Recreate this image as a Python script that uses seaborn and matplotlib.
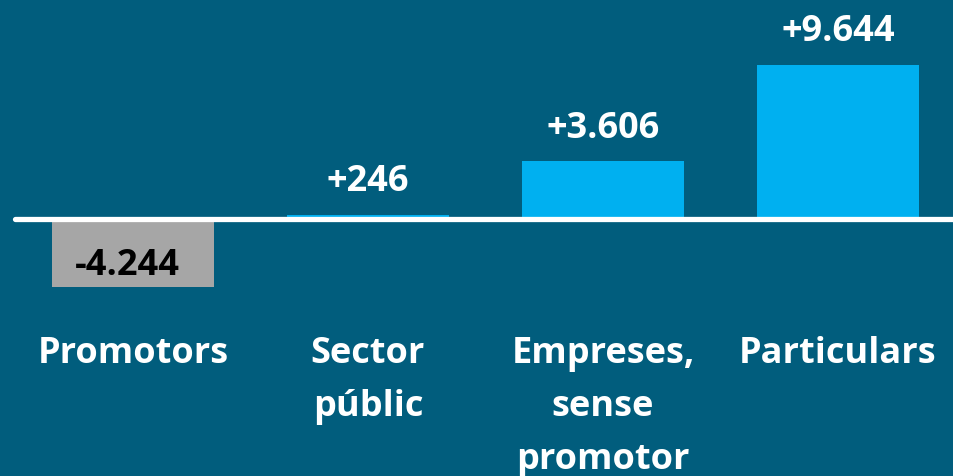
import matplotlib.pyplot as plt
import matplotlib.transforms as mtransforms
import seaborn as sns

categories = ["Promotors", "Sector\npúblic", "Empreses,\nsense\npromotor", "Particulars"]
values = [-4244, 246, 3606, 9644]
value_labels = ["-4.244", "+246", "+3.606", "+9.644"]
bar_colors = ["#A6A6A6", "#00B0F0", "#00B0F0", "#00B0F0"]

BG = "#015D7D"

sns.set_theme(style="white")
plt.rcParams["font.family"] = ["Open Sans", "DejaVu Sans"]

fig = plt.figure(figsize=(9.54, 4.76), dpi=100, facecolor=BG)
ax = fig.add_axes([0, 0, 1, 1])
ax.set_facecolor(BG)

sns.barplot(
    x=list(range(len(values))),
    y=values,
    hue=list(range(len(values))),
    palette=bar_colors,
    width=0.69,
    legend=False,
    saturation=1,
    linewidth=0,
    ax=ax,
)

ax.set_xlim(-0.566, 3.494)
ax.set_ylim(-16060, 13690)
ax.axhline(0, xmin=15 / 954, xmax=1, color="white", linewidth=3.8, zorder=5)
ax.set_axis_off()

# value labels
for i, (val, lab) in enumerate(zip(values, value_labels)):
    if val >= 0:
        ax.annotate(lab, (i, val), xytext=(0, 17), textcoords="offset points",
                    ha="center", va="baseline", color="white",
                    fontsize=26, fontweight="bold")
    else:
        ax.annotate(lab, (i, val), xytext=(-4.3, 8.4), textcoords="offset points",
                    ha="center", va="baseline", color="black",
                    fontsize=26, fontweight="bold", zorder=6)

# category labels
trans = mtransforms.blended_transform_factory(ax.transData, ax.transAxes)
for i, cat in enumerate(categories):
    ax.text(i, 1 - 336 / 476, cat, transform=trans, ha="center", va="top",
            multialignment="center", linespacing=1.63, color="white",
            fontsize=26, fontweight="bold")

fig.savefig("out.png", dpi=100, facecolor=BG)
